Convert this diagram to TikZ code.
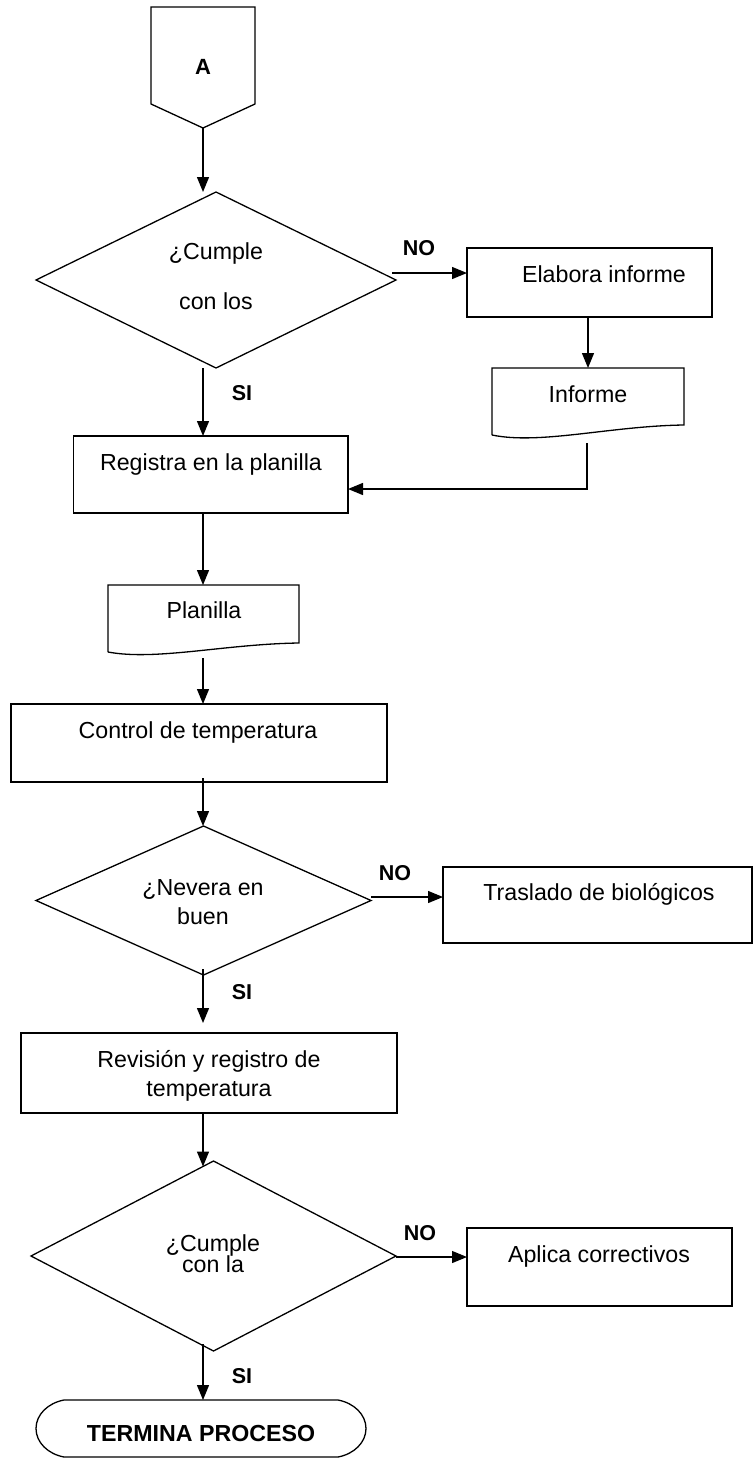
\documentclass[tikz,border=0pt]{standalone}
\usepackage{fontspec}
\setmainfont{Liberation Sans}
\usetikzlibrary{shapes.geometric,arrows.meta,calc}
\begin{document}
\begin{tikzpicture}[x=1pt,y=-1pt,
  every node/.style={inner sep=0pt, outer sep=0pt},
  shapebox/.style={draw, line width=1.6pt},
  decision/.style={draw, diamond, line width=1.3pt},
  outline/.style={line width=1.3pt, line join=miter},
  line/.style={line width=1.3pt},
  arr/.style={line width=1.3pt, -{Triangle[length=15pt,width=12pt]}},
  lbl/.style={font=\fontsize{23.2}{28}\selectfont, anchor=base},
  ml/.style={font=\fontsize{23.2}{#1}\selectfont, anchor=north, align=center},
  yn/.style={font=\bfseries\fontsize{21.5}{26}\selectfont, anchor=base},
]
\lineskiplimit=-100pt
\useasboundingbox (0,0) rectangle (753,1459);

% ---- shapes ----
\node[minimum width=104pt, minimum height=97pt] (A) at (203,55.5) {};
\draw[outline] (A.north west) -- (A.north east) -- (A.south east)
  -- ($(A.south)+(0,24)$) coordinate (Abot) -- (A.south west) -- cycle;
\node[font=\bfseries\fontsize{22}{26}\selectfont, anchor=base] (tA) at (203,74) {A};

\node[decision, minimum width=360pt, minimum height=176pt] (d1) at (216,280) {};
\node[ml=50] (td1) at (216,243) {¿Cumple\\con los};

\node[shapebox, minimum width=245pt, minimum height=69pt] (elab) at (589.5,282.5) {};
\node[lbl] (telab) at (604,282) {Elabora informe};

\node[minimum width=192pt, minimum height=67pt] (inf) at (588,401.5) {};
\draw[outline] (inf.south west) -- (inf.north west) -- (inf.north east)
  -- ($(inf.south east)+(0,-10)$)
  .. controls ($(inf.south east)+(-74,-9)$) and ($(inf.south west)+(48,10)$) .. (inf.south west);
\node[lbl] (tinf) at (588,402) {Informe};

\node[shapebox, minimum width=274.4pt, minimum height=77pt] (reg) at (210.8,474.5) {};
\node[lbl] (treg) at (211,470) {Registra en la planilla};

\node[minimum width=191pt, minimum height=67pt] (plan) at (203.5,618.5) {};
\draw[outline] (plan.south west) -- (plan.north west) -- (plan.north east)
  -- ($(plan.south east)+(0,-9)$)
  .. controls ($(plan.south east)+(-74,-8)$) and ($(plan.south west)+(48,9)$) .. (plan.south west);
\node[lbl] (tplan) at (204,618) {Planilla};

\node[shapebox, minimum width=376pt, minimum height=78pt] (ctrl) at (199,743) {};
\node[lbl] (tctrl) at (198,738) {Control de temperatura};

\node[decision, minimum width=335pt, minimum height=149pt] (d2) at (203.5,900.5) {};
\node[ml=29] (td2) at (203,880) {¿Nevera en\\buen};

\node[shapebox, minimum width=309pt, minimum height=76pt] (tras) at (597.5,905) {};
\node[lbl] (ttras) at (599,900) {Traslado de biológicos};

\node[shapebox, minimum width=376pt, minimum height=80pt] (rev) at (209,1073) {};
\node[ml=29] (trev) at (209,1050) {Revisión y registro de\\temperatura};

\node[decision, minimum width=365pt, minimum height=190pt] (d3) at (213.5,1256) {};
\node[ml=21] (td3) at (213,1235) {¿Cumple\\con la};

\node[shapebox, minimum width=265pt, minimum height=78pt] (apl) at (599.5,1267) {};
\node[lbl] (tapl) at (599,1262) {Aplica correctivos};

\node[minimum width=330pt, minimum height=57pt] (fin) at (201,1428.5) {};
\draw[outline] ($(fin.north west)+(28,0)$) -- ($(fin.north east)+(-28,0)$)
  .. controls ($(fin.north east)+(-12,3)$) and ($(fin.east)+(0,-14)$) .. (fin.east)
  .. controls ($(fin.east)+(0,14)$) and ($(fin.south east)+(-12,-3)$) .. ($(fin.south east)+(-28,0)$)
  -- ($(fin.south west)+(28,0)$)
  .. controls ($(fin.south west)+(12,-3)$) and ($(fin.west)+(0,14)$) .. (fin.west)
  .. controls ($(fin.west)+(0,-14)$) and ($(fin.north west)+(12,3)$) .. cycle;
\node[font=\bfseries\fontsize{23.2}{28}\selectfont, anchor=base] (tfin) at (201,1441) {TERMINA PROCESO};

% ---- labels ----
\node[yn] (no1) at (419,255) {NO};
\node[yn] (si1) at (242,400) {SI};
\node[yn] (no2) at (395,880) {NO};
\node[yn] (si2) at (242,999) {SI};
\node[yn] (no3) at (420,1240) {NO};
\node[yn] (si3) at (242,1383) {SI};

% ---- connectors ----
\draw[arr] (Abot) -- (Abot |- d1.north);
\draw[arr] ($(d1.east)+(-4,-7)$) coordinate (n1) -- (n1 -| elab.west);
\draw[arr] (inf.north |- elab.south) -- (inf.north);
\draw[arr] ($(inf.south)+(-1,8)$) |- ($(reg.east)+(0,14.5)$);
\draw[arr] (d1.south -| Abot) -- (reg.north -| Abot);
\draw[arr] (reg.south -| Abot) -- (plan.north -| Abot);
\draw[arr] ($(plan.south -| Abot)+(0,6)$) -- (ctrl.north -| Abot);
\draw[arr] ($(ctrl.south -| Abot)+(0,-4)$) -- (d2.north -| Abot);
\draw[arr] ($(d2.east)+(0,-3.5)$) coordinate (n2) -- (n2 -| tras.west);
\draw[arr] ($(d2.south -| Abot)+(0,-6)$) -- ($(rev.north -| Abot)+(0,-10)$);
\draw[arr] (rev.south -| Abot) -- ($(Abot |- d3.north)+(0,5.5)$);
\draw[arr] ($(d3.east)+(0,1)$) coordinate (n3) -- (n3 -| apl.west);
\draw[arr] ($(d3.south -| Abot)+(0,-7)$) -- (fin.north -| Abot);
\end{tikzpicture}
\end{document}
